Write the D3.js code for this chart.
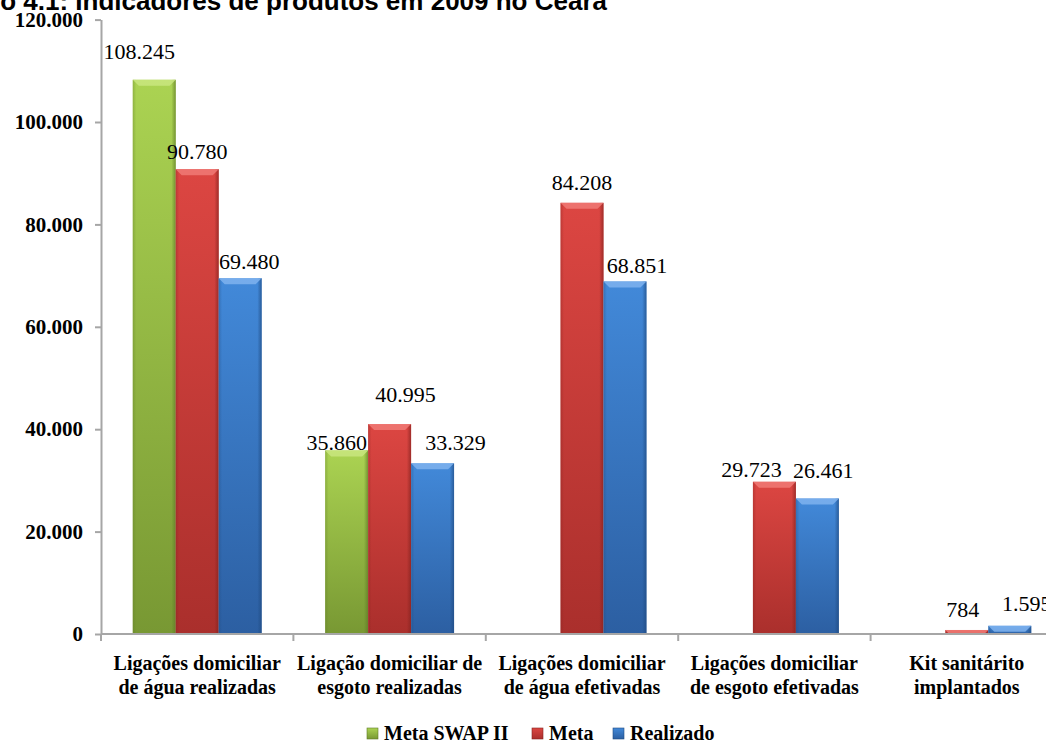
<!DOCTYPE html>
<html>
<head>
<meta charset="utf-8">
<script src="https://cdn.jsdelivr.net/npm/d3@7"></script>
<style>
  html, body { margin: 0; padding: 0; background: #ffffff; overflow: hidden; }
  svg { display: block; }
</style>
</head>
<body>
<svg id="chart" width="1046" height="749"></svg>
<script>
// Indicadores de produtos em 2009 no Ceará
const categories = [
  ["Ligações domiciliar", "de água realizadas"],
  ["Ligação domiciliar de", "esgoto realizadas"],
  ["Ligações domiciliar", "de água efetivadas"],
  ["Ligações domiciliar", "de esgoto efetivadas"],
  ["Kit sanitárito", "implantados"]
];
const seriesNames = ["Meta SWAP II", "Meta", "Realizado"];
const metaSwap = [108245, 35860, null, null, null];
const meta = [90780, 40995, 84208, 29723, 784];
const realizado = [69480, 33329, 68851, 26461, 1595];
const yTicks = [0, 20000, 40000, 60000, 80000, 100000, 120000];

// label nudges (dx, gap above bar top), per series and category
const labelDx = [
  [-15, -10, 0, 0, 0],
  [0, 16, 0, -23, -4],
  [9, 23, 12, 6, 17]
];
const labelGap = [
  [21, 0, 0, 0, 0],
  [10, 22, 13, 5, 13],
  [9, 13, 8, 21, 15]
];

const palette = {
  "Meta SWAP II": { top: "#abd352", bottom: "#789833", edge: "#5f7a26", bevel: "#c9e67f" },
  "Meta":         { top: "#dc4642", bottom: "#aa2f2c", edge: "#85221f", bevel: "#f07a76" },
  "Realizado":    { top: "#4289d9", bottom: "#2c5fa2", edge: "#1f4a80", bevel: "#7fb3ee" }
};

const svg = d3.select("#chart");
const defs = svg.append("defs");

seriesNames.forEach((s, i) => {
  const c = palette[s];
  const g = defs.append("linearGradient").attr("id", "grad" + i)
    .attr("x1", 0).attr("y1", 0).attr("x2", 0).attr("y2", 1);
  g.append("stop").attr("offset", "0%").attr("stop-color", c.top);
  g.append("stop").attr("offset", "100%").attr("stop-color", c.bottom);
  const h = defs.append("linearGradient").attr("id", "hgrad" + i)
    .attr("x1", 0).attr("y1", 0).attr("x2", 1).attr("y2", 0);
  h.append("stop").attr("offset", "0%").attr("stop-color", c.edge).attr("stop-opacity", 0.35);
  h.append("stop").attr("offset", "8%").attr("stop-color", c.edge).attr("stop-opacity", 0);
  h.append("stop").attr("offset", "90%").attr("stop-color", c.edge).attr("stop-opacity", 0);
  h.append("stop").attr("offset", "100%").attr("stop-color", c.edge).attr("stop-opacity", 0.7);
});

const margin = { left: 101, right: -17, top: 19.6, bottom: 115 };
const W = 1046, H = 749;
const y0 = H - margin.bottom;

const x0 = d3.scaleBand()
  .domain(d3.range(categories.length))
  .range([margin.left, W - margin.right])
  .paddingInner(0).paddingOuter(0);

const groupFrac = 0.67;
const x1 = d3.scaleBand()
  .domain(seriesNames)
  .range([x0.bandwidth() * (1 - groupFrac) / 2, x0.bandwidth() * (1 + groupFrac) / 2])
  .padding(0);

const y = d3.scaleLinear().domain([0, 120000]).range([y0, margin.top]);

const fmt = v => d3.format(",")(v).replace(/,/g, ".");

// Title (partly above the visible top edge)
svg.append("text")
  .attr("x", 607).attr("y", 10)
  .attr("text-anchor", "end")
  .attr("font-family", "Liberation Sans, Arial, sans-serif")
  .attr("font-weight", "bold")
  .attr("font-size", 26)
  .attr("fill", "#000")
  .text("Gráfico 4.1: Indicadores de produtos em 2009 no Ceará");

// Y axis
const yAxis = svg.append("g")
  .attr("transform", `translate(${margin.left},0)`)
  .call(d3.axisLeft(y).tickValues(yTicks).tickFormat(fmt).tickSize(6).tickSizeOuter(0).tickPadding(12));
yAxis.select(".domain").attr("stroke", "#a6a6a6").attr("stroke-width", 2);
yAxis.selectAll(".tick line").attr("stroke", "#a6a6a6").attr("stroke-width", 2);
yAxis.selectAll(".tick text")
  .attr("font-family", "Liberation Serif, Times New Roman, serif")
  .attr("font-weight", "bold")
  .attr("font-size", 21)
  .attr("fill", "#000");

// Bars
const series = [metaSwap, meta, realizado];
const bars = [];
series.forEach((vals, si) => {
  vals.forEach((v, ci) => {
    if (v == null) return;
    bars.push({ si, ci, v, name: seriesNames[si] });
  });
});

const barG = svg.append("g");
const bw = x1.bandwidth();
const bar = barG.selectAll("g.bar").data(bars).join("g").attr("class", "bar")
  .attr("transform", d => `translate(${x0(d.ci) + x1(d.name)},0)`);

bar.append("rect")
  .attr("x", 0).attr("width", bw)
  .attr("y", d => y(d.v)).attr("height", d => y0 - y(d.v))
  .attr("fill", d => `url(#grad${d.si})`);
bar.append("rect")
  .attr("x", 0).attr("width", bw)
  .attr("y", d => y(d.v)).attr("height", d => y0 - y(d.v))
  .attr("fill", d => `url(#hgrad${d.si})`);
// bevelled top edge
bar.append("path")
  .attr("d", d => {
    const t = y(d.v), h = Math.min(6, y0 - t);
    return `M0,${t} L${bw},${t} L${bw - h},${t + h} L${h},${t + h} Z`;
  })
  .attr("fill", d => palette[d.name].bevel)
  .attr("opacity", 0.85);

// X axis
const xAxis = svg.append("g").attr("transform", `translate(0,${y0})`);
xAxis.append("line")
  .attr("x1", margin.left).attr("x2", W - margin.right)
  .attr("stroke", "#a6a6a6").attr("stroke-width", 2);
xAxis.selectAll("line.tick")
  .data(d3.range(categories.length + 1))
  .join("line").attr("class", "tick")
  .attr("x1", i => (i < categories.length ? x0(i) : x0(i - 1) + x0.bandwidth()))
  .attr("x2", i => (i < categories.length ? x0(i) : x0(i - 1) + x0.bandwidth()))
  .attr("y1", 0).attr("y2", 7)
  .attr("stroke", "#a6a6a6").attr("stroke-width", 2);

const catText = svg.append("g").selectAll("text")
  .data(categories).join("text")
  .attr("x", (d, i) => x0(i) + x0.bandwidth() / 2)
  .attr("y", y0 + 36)
  .attr("text-anchor", "middle")
  .attr("font-family", "Liberation Serif, Times New Roman, serif")
  .attr("font-weight", "bold")
  .attr("font-size", 20)
  .attr("fill", "#000");
catText.selectAll("tspan").data(d => d).join("tspan")
  .attr("x", function () { return this.parentNode.getAttribute("x"); })
  .attr("dy", (d, i) => (i === 0 ? 0 : 24))
  .text(d => d);

// Value labels
barG.selectAll("text.val").data(bars).join("text").attr("class", "val")
  .attr("x", d => x0(d.ci) + x1(d.name) + bw / 2 + labelDx[d.si][d.ci])
  .attr("y", d => y(d.v) - labelGap[d.si][d.ci])
  .attr("text-anchor", "middle")
  .attr("font-family", "Liberation Serif, Times New Roman, serif")
  .attr("font-size", 22)
  .attr("fill", "#000")
  .text(d => fmt(d.v));

// Legend
const legend = svg.append("g").attr("transform", `translate(0,${H - 9})`);
const legendX = [367, 532, 613];
seriesNames.forEach((s, i) => {
  const g = legend.append("g").attr("transform", `translate(${legendX[i]},0)`);
  g.append("rect").attr("x", 0).attr("y", -12).attr("width", 11).attr("height", 11)
    .attr("fill", `url(#grad${i})`).attr("stroke", palette[s].edge).attr("stroke-width", 0.6);
  g.append("text").attr("x", 17).attr("y", 0)
    .attr("font-family", "Liberation Serif, Times New Roman, serif")
    .attr("font-weight", "bold")
    .attr("font-size", 20)
    .attr("fill", "#000")
    .text(s);
});
</script>
</body>
</html>
